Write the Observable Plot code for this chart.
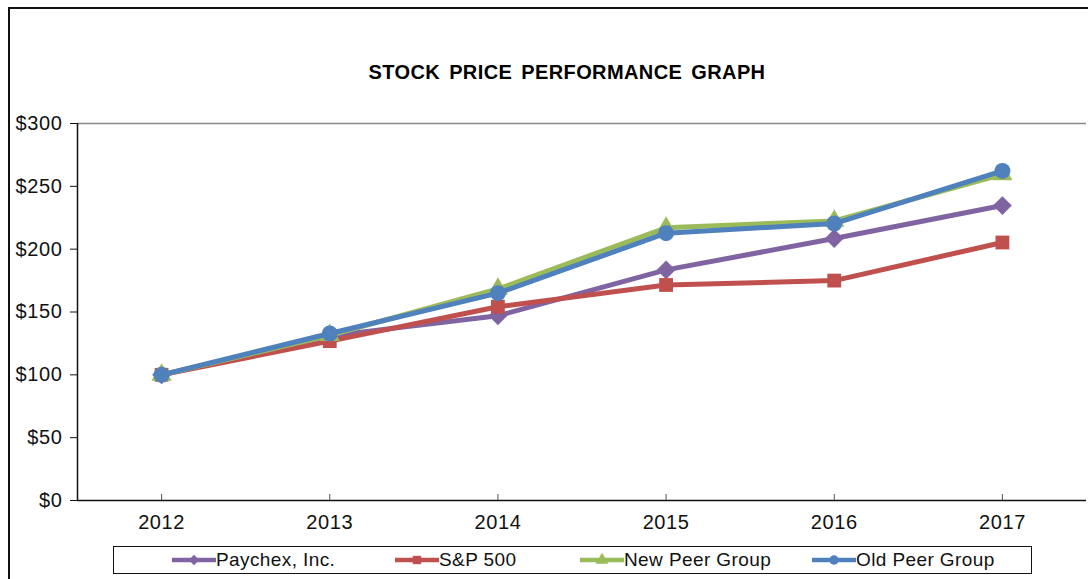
<!DOCTYPE html>
<html>
<head>
<meta charset="utf-8">
<script src="https://cdn.jsdelivr.net/npm/d3@7"></script>
<script src="https://cdn.jsdelivr.net/npm/@observablehq/plot@0.6"></script>
<style>
  html, body { margin: 0; padding: 0; background: #fff; }
  #wrap { position: relative; width: 1088px; height: 579px; overflow: hidden; font-family: "Liberation Sans", Arial, sans-serif; }
  #frame { position: absolute; left: 8px; top: 7px; width: 1200px; height: 700px; border-left: 2px solid #111; border-top: 2px solid #111; box-sizing: border-box; pointer-events: none; }
  #title { position: absolute; left: 0; width: 1134px; top: 61px; text-align: center; font-weight: bold; font-size: 20px; letter-spacing: 0.4px; color: #000; word-spacing: 3px; }
  #chart { position: absolute; left: 0; top: 0; }
  #chart text { letter-spacing: 0.6px; }
  #legend { position: absolute; left: 113px; top: 546px; width: 919px; height: 28px; border: 1.5px solid #111; box-sizing: border-box; background: #fff; font-size: 19px; letter-spacing: 0.4px; color: #111; }
  .item { position: absolute; top: 0; height: 26px; display: flex; align-items: center; }
  .item svg { display: block; }
</style>
</head>
<body>
<div id="wrap">
  <div id="chart"></div>
  <div id="frame"></div>
  <div id="title">STOCK PRICE PERFORMANCE GRAPH</div>
  <div id="legend"></div>
</div>
<script>
const years = [2012, 2013, 2014, 2015, 2016, 2017];
const seriesNames = ["Paychex, Inc.", "S&P 500", "New Peer Group", "Old Peer Group"];
const paychex = [100, 131, 147, 183.5, 208.5, 234.7];
const sp500 = [100, 126.8, 154.2, 171.5, 175, 205.3];
const newPeer = [100, 131.5, 168.3, 217, 222.5, 259.5];
const oldPeer = [100, 132.9, 165, 212.7, 220.4, 262.3];
const yTicks = [0, 50, 100, 150, 200, 250, 300];

const colors = ["#8064A2", "#C0504D", "#9BBB59", "#4F81BD"];
const symbols = ["diamond2", "square", "triangle", "circle"];
const sizes = [8.5, 7.8, 7.5, 8];

const allSeries = [paychex, sp500, newPeer, oldPeer];
const data = [];
allSeries.forEach((vals, i) => {
  vals.forEach((v, j) => data.push({series: seriesNames[i], year: years[j], value: v}));
});

const marks = [
  Plot.ruleY([300], {stroke: "#888", strokeWidth: 1.5}),
  Plot.ruleY([0], {stroke: "#111", strokeWidth: 1.5}),
  Plot.ruleX([2011.5], {y1: 0, y2: 300, stroke: "#111", strokeWidth: 1.5}),
  Plot.axisY({ticks: yTicks, tickSize: 7, tickPadding: 8, tickFormat: d => "$" + d, fontSize: 20, label: null, stroke: "#111"}),
  Plot.axisX({ticks: years, tickSize: -6, tickPadding: 20, tickFormat: d => String(d), fontSize: 20, label: null, stroke: "#555"})
];
seriesNames.forEach((name, i) => {
  const sub = data.filter(d => d.series === name);
  marks.push(Plot.line(sub, {x: "year", y: "value", stroke: colors[i], strokeWidth: 5}));
  marks.push(Plot.dot(sub, {x: "year", y: "value", fill: colors[i], symbol: symbols[i], r: sizes[i], stroke: "none"}));
});

const chart = Plot.plot({
  width: 1088,
  height: 579,
  marginTop: 123,
  marginBottom: 79,
  marginLeft: 77,
  marginRight: 2,
  style: {fontFamily: "'Liberation Sans', Arial, sans-serif", color: "#111", background: "transparent", overflow: "visible"},
  x: {domain: [2011.5, 2017.5], axis: null},
  y: {domain: [0, 300], axis: null},
  marks
});
document.getElementById("chart").appendChild(chart);

// legend
const legend = document.getElementById("legend");
const lefts = [58, 281, 466, 698];
const d3sym = [d3.symbolDiamond2, d3.symbolSquare, d3.symbolTriangle, d3.symbolCircle];
seriesNames.forEach((name, i) => {
  const it = document.createElement("div");
  it.className = "item";
  it.style.left = lefts[i] + "px";
  const path = d3.symbol(d3sym[i], 70)();
  it.innerHTML = `<svg width="44" height="26"><line x1="0" x2="44" y1="13" y2="13" stroke="${colors[i]}" stroke-width="4.5"/><path transform="translate(22,13)" d="${path}" fill="${colors[i]}"/></svg><span>${name.replace("&", "&amp;")}</span>`;
  legend.appendChild(it);
});
</script>
</body>
</html>
